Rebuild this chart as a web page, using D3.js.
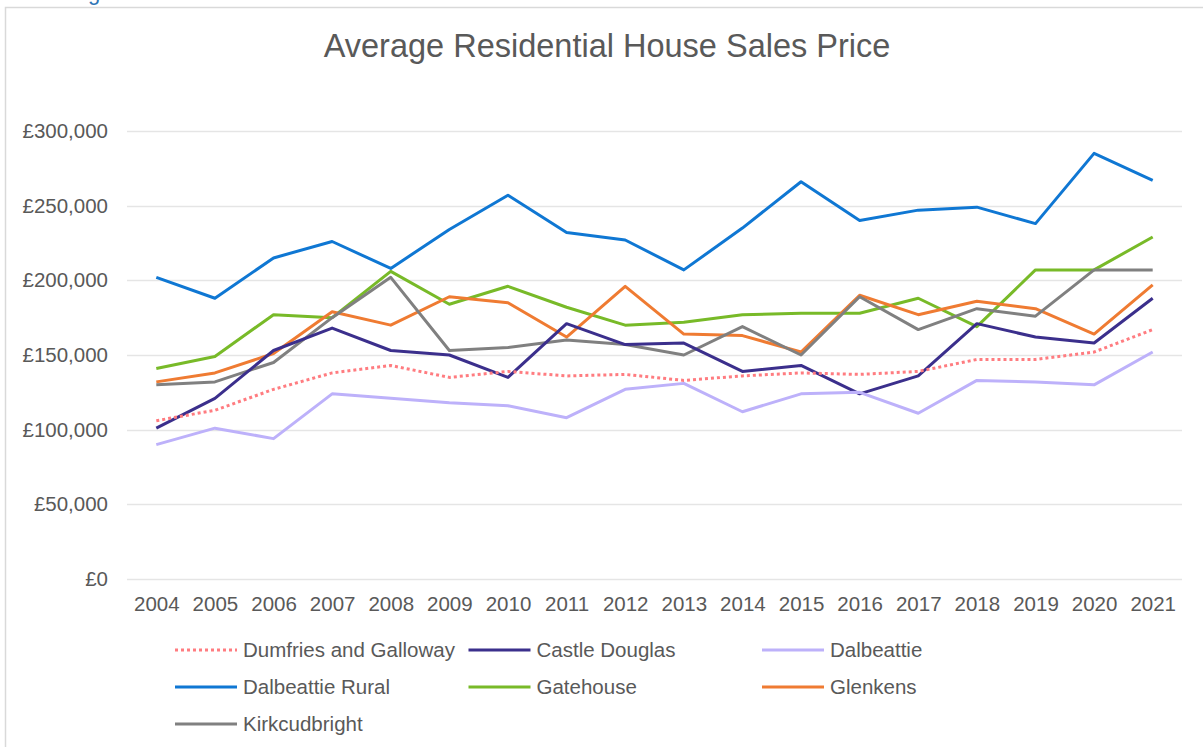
<!DOCTYPE html>
<html>
<head>
<meta charset="utf-8">
<script src="https://cdn.jsdelivr.net/npm/d3@7"></script>
<style>
  html, body { margin: 0; padding: 0; background: #fff; }
  svg { display: block; font-family: "Liberation Sans", Arial, sans-serif; }
</style>
</head>
<body>
<svg id="chart" width="1203" height="747"></svg>
<script>
const title = "Average Residential House Sales Price";
const years = ["2004","2005","2006","2007","2008","2009","2010","2011","2012","2013","2014","2015","2016","2017","2018","2019","2020","2021"];
const yTicks = [0, 50000, 100000, 150000, 200000, 250000, 300000];
const seriesNames = ["Dumfries and Galloway","Castle Douglas","Dalbeattie","Dalbeattie Rural","Gatehouse","Glenkens","Kirkcudbright"];
const dumfriesAndGalloway = [106000,113000,127000,138000,143000,135000,139000,136000,137000,133000,136000,138000,137000,139000,147000,147000,152000,167000];
const castleDouglas       = [101000,121000,153000,168000,153000,150000,135000,171000,157000,158000,139000,143000,124000,136000,171000,162000,158000,188000];
const dalbeattie          = [ 90000,101000, 94000,124000,121000,118000,116000,108000,127000,131000,112000,124000,125000,111000,133000,132000,130000,152000];
const dalbeattieRural     = [202000,188000,215000,226000,208000,234000,257000,232000,227000,207000,235000,266000,240000,247000,249000,238000,285000,267000];
const gatehouse           = [141000,149000,177000,175000,206000,184000,196000,182000,170000,172000,177000,178000,178000,188000,169000,207000,207000,229000];
const glenkens            = [132000,138000,151000,179000,170000,189000,185000,162000,196000,164000,163000,152000,190000,177000,186000,181000,164000,197000];
const kirkcudbright       = [130000,132000,145000,175000,202000,153000,155000,160000,157000,150000,169000,150000,189000,167000,181000,176000,207000,207000];
const seriesColors = ["#FF7C80","#3B2F8C","#BDB1FA","#0F77D3","#78BA28","#EF7B32","#808080"];

const seriesValues = [dumfriesAndGalloway, castleDouglas, dalbeattie, dalbeattieRural, gatehouse, glenkens, kirkcudbright];
const series = seriesNames.map((name, i) => ({ name, color: seriesColors[i], dotted: i === 0, values: seriesValues[i] }));

const svg = d3.select("#chart");
const textColor = "#595959";

// Frame border
svg.append("rect").attr("x", 5.5).attr("y", 7.5).attr("width", 1220).attr("height", 760)
  .attr("fill", "none").attr("stroke", "#D9D9D9").attr("stroke-width", 1.5);

// Cut-off blue heading fragment above the frame (as in the reference)
svg.append("text").attr("x", 88).attr("y", 0).attr("fill", "#2E74B5")
  .style("font-size", "22px").text("g");

// Title
svg.append("text").attr("x", 607).attr("y", 57).attr("text-anchor", "middle")
  .attr("fill", textColor).style("font-size", "32.5px").text(title);

const plot = { left: 127, right: 1182, top: 131, bottom: 579 };

const x = d3.scalePoint().domain(years).range([plot.left, plot.right]).padding(0.5);
const y = d3.scaleLinear().domain([0, 300000]).range([plot.bottom, plot.top]);

// Gridlines
svg.append("g").selectAll("line").data(yTicks).join("line")
  .attr("x1", plot.left).attr("x2", plot.right)
  .attr("y1", d => Math.round(y(d)) + 0.5).attr("y2", d => Math.round(y(d)) + 0.5)
  .attr("stroke", "#E5E5E5").attr("stroke-width", 1.3);

// Y axis labels
const fmt = d => "£" + d3.format(",")(d);
const yAxis = d3.axisLeft(y).tickValues(yTicks).tickFormat(fmt).tickSize(0).tickPadding(0);
const yg = svg.append("g").attr("transform", `translate(108,0)`).call(yAxis);
yg.select(".domain").remove();
yg.selectAll("text").attr("fill", textColor).style("font-size", "20.5px")
  .style("font-family", "'Liberation Sans', Arial, sans-serif");

// X axis labels
const xAxis = d3.axisBottom(x).tickSize(0).tickPadding(0);
const xg = svg.append("g").attr("transform", `translate(0,596)`).call(xAxis);
xg.select(".domain").remove();
xg.selectAll("text").attr("fill", textColor).style("font-size", "20.5px")
  .style("font-family", "'Liberation Sans', Arial, sans-serif");

// Lines
const line = d3.line().x((d, i) => x(years[i])).y(d => y(d));
const drawOrder = [3, 4, 5, 6, 1, 0, 2];
svg.append("g").selectAll("path").data(drawOrder.map(i => series[i])).join("path")
  .attr("d", d => line(d.values))
  .attr("fill", "none")
  .attr("stroke", d => d.color)
  .attr("stroke-width", 3)
  .attr("stroke-linejoin", "round")
  .attr("stroke-dasharray", d => d.dotted ? "3,3" : null);

// Legend
const legendCol = [175, 468.5, 762];
const legendRow = [650, 687, 724];
const lg = svg.append("g");
series.forEach((s, i) => {
  const cx = legendCol[i % 3], cy = legendRow[Math.floor(i / 3)];
  lg.append("line").attr("x1", cx).attr("x2", cx + 62).attr("y1", cy).attr("y2", cy)
    .attr("stroke", s.color).attr("stroke-width", 3)
    .attr("stroke-dasharray", s.dotted ? "3,3" : null);
  lg.append("text").attr("x", cx + 68).attr("y", cy).attr("dy", "0.35em")
    .attr("fill", textColor).style("font-size", "20.5px").text(s.name);
});
</script>
</body>
</html>
